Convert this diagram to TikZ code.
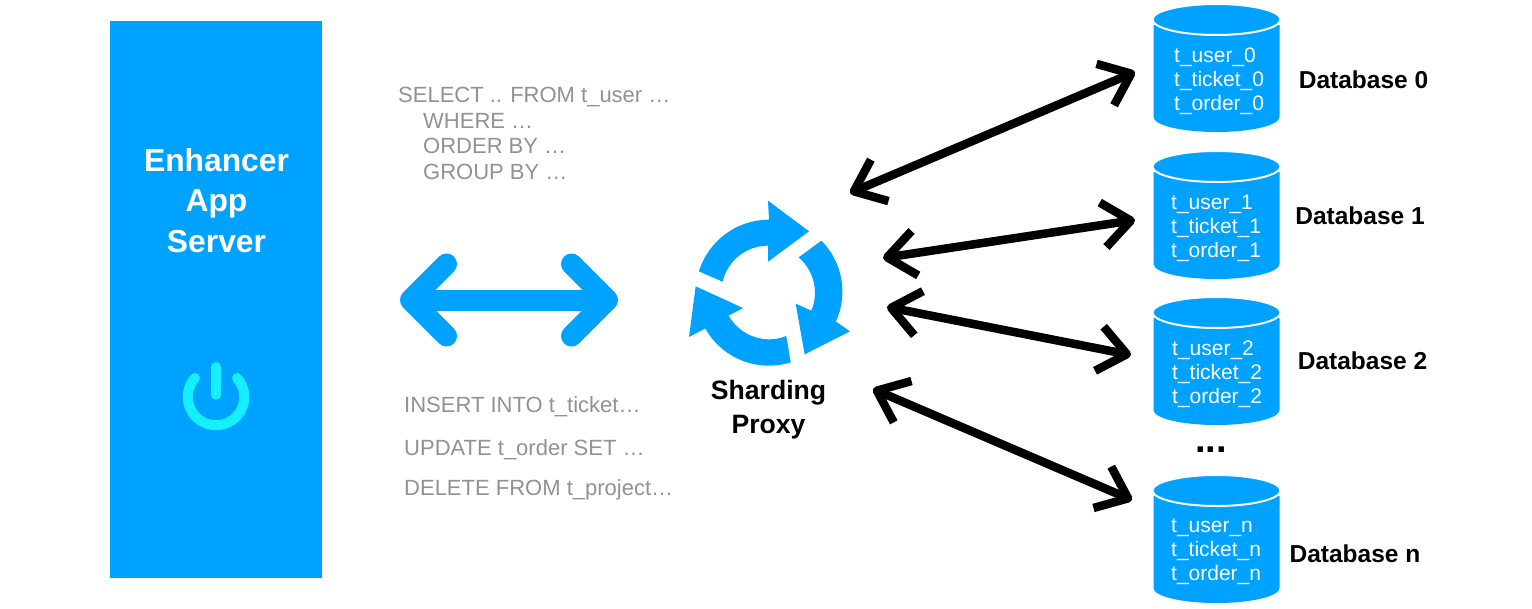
\documentclass[tikz,border=0pt]{standalone}
\usepackage{fontspec}
\setmainfont{Liberation Sans}
\usetikzlibrary{arrows.meta,calc}
\definecolor{appblue}{HTML}{00A2FF}
\definecolor{powercyan}{HTML}{14F0FF}
\definecolor{sqlgray}{HTML}{929292}
\tikzset{
  sql/.style={anchor=west,text=sqlgray,font=\fontsize{22}{22}\selectfont,inner sep=0pt},
  dbtext/.style={text=white,font=\fontsize{21}{24}\selectfont,align=left,inner sep=0pt},
  dblabel/.style={font=\bfseries\fontsize{24.5}{24.5}\selectfont,inner sep=0pt},
  title/.style={text=white,font=\bfseries\fontsize{31.8}{40.5}\selectfont,align=center,inner sep=0pt},
  proxylabel/.style={font=\bfseries\fontsize{26.6}{34}\selectfont,align=center,inner sep=0pt},
  link/.style={line width=8.5pt,draw=black,{Straight Barb[length=28pt,width=45pt,line join=round]}-{Straight Barb[length=28pt,width=45pt,line join=round]}},
  bigarrow/.style={line width=21pt,draw=appblue,{Straight Barb[length=36pt,width=72pt,round]}-{Straight Barb[length=36pt,width=72pt,round]}},
  cyltop/.style={fill=appblue,draw=white,line width=2pt},
}
\newcommand{\dbcyl}[4]{% name, top y, text x, text
  \fill[appblue] (1153.5,#2+20) -- (1153.5,#2+112) arc[start angle=180,end angle=0,x radius=63,y radius=15] -- (1279.5,#2+20) -- cycle;
  \draw[cyltop] (1216.5,#2+14.5) ellipse[x radius=64,y radius=15.5];
  \node[dbtext,anchor=west] (#1) at (#3,#2+76) {#4};
}
\begin{document}
\begin{tikzpicture}[x=1pt,y=1pt,yscale=-1]
\useasboundingbox (0,0) rectangle (1532,608);
\fill[white] (0,0) rectangle (1532,608);
% app server
\node[fill=appblue,minimum width=212pt,minimum height=557pt,inner sep=0pt,anchor=north west] (app) at (110,21) {};
\node[title] (apptitle) at (216.5,200.5) {Enhancer\\App\\Server};
% power icon
\draw[powercyan,line width=10pt,line cap=round] (195,378) arc[start angle=222,end angle=-42,radius=28.3];
\draw[powercyan,line width=9.3pt,line cap=round] (216,366.7) -- (216,395);
% SQL
\node[sql] (s1) at (398,97) {SELECT .. FROM t\_user …};
\node[sql] (s2) at (423,121) {WHERE …};
\node[sql] (s3) at (423,145.5) {ORDER BY …};
\node[sql] (s4) at (423,171.5) {GROUP BY …};
\node[sql] (s5) at (404,407) {INSERT INTO t\_ticket…};
\node[sql] (s6) at (404,450) {UPDATE t\_order SET …};
\node[sql] (s7) at (404,490) {DELETE FROM t\_project…};
% double arrow
\coordinate (bl) at (400,300);
\coordinate (br) at (618,300);
\draw[bigarrow] (bl) -- (br);
% proxy icon
\begin{scope}[shift={(769,293)},scale=1/3]
\fill[appblue] (197.2:220) arc[start angle=197.2,end angle=270,radius=220] -- (-3,-277) -- (120,-185) -- (-3,-94) -- (-3,-142) arc[start angle=270,end angle=193.2,radius=140] -- cycle;
\fill[appblue] (-45:222) arc[start angle=-45,end angle=24.6,radius=216] -- (243,115) -- (107,184) -- (80,32) -- (127,53) arc[start angle=22.6,end angle=-49.3,radius=140] -- cycle;
\fill[appblue] (72.6:218) arc[start angle=72.6,end angle=150.7,radius=219] -- (-240,132) -- (-220,-20) -- (-78,45) -- (-121,68) arc[start angle=150.7,end angle=68.2,radius=139] -- cycle;
\end{scope}
\node[proxylabel] (proxy) at (768.5,410) {Sharding\\Proxy};
% databases
\dbcyl{db0}{5}{1174}{t\_user\_0\\t\_ticket\_0\\t\_order\_0}
\dbcyl{db1}{152}{1171}{t\_user\_1\\t\_ticket\_1\\t\_order\_1}
\dbcyl{db2}{298}{1172}{t\_user\_2\\t\_ticket\_2\\t\_order\_2}
\dbcyl{dbn}{476}{1171}{t\_user\_n\\t\_ticket\_n\\t\_order\_n}
\node[dblabel] (l0) at (1363.5,80) {Database 0};
\node[dblabel] (l1) at (1360,216) {Database 1};
\node[dblabel] (l2) at (1362.5,361) {Database 2};
\node[dblabel] (ln) at (1355,554) {Database n};
\node[font=\bfseries\fontsize{38}{38}\selectfont,inner sep=0pt] (dots) at (1211,450) {...};
% links
\coordinate (p0) at (850,193);
\coordinate (e0) at (1135,72);
\coordinate (p1) at (883,258);
\coordinate (e1) at (1135,220);
\coordinate (p2) at (887,307);
\coordinate (e2) at (1131,355);
\coordinate (p3) at (873,389);
\coordinate (e3) at (1132,500);
\draw[link] (p0) -- (e0);
\draw[link] (p1) -- (e1);
\draw[link] (p2) -- (e2);
\draw[link] (p3) -- (e3);
\end{tikzpicture}
\end{document}
